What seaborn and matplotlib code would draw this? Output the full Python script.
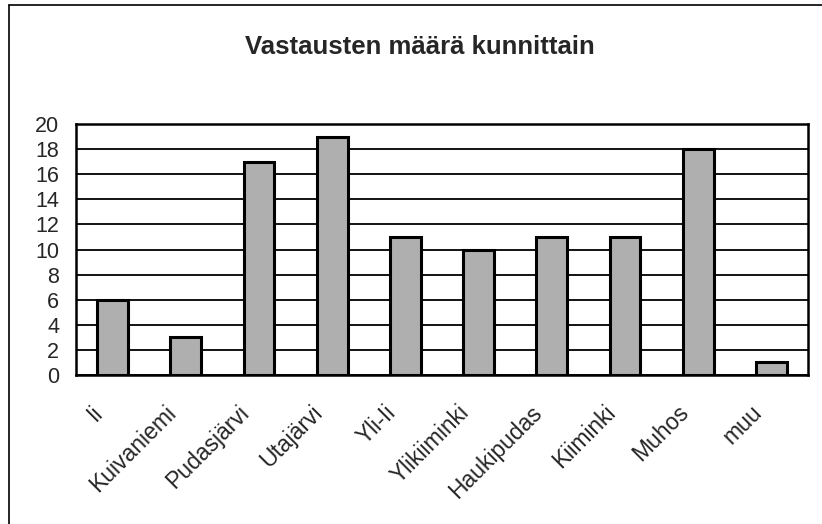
import matplotlib
matplotlib.use("Agg")
import matplotlib.pyplot as plt
import matplotlib.transforms as mtransforms
import seaborn as sns
import pandas as pd
from matplotlib.lines import Line2D

categories = ["Ii", "Kuivaniemi", "Pudasjärvi", "Utajärvi", "Yli-Ii", "Ylikiiminki",
              "Haukipudas", "Kiiminki", "Muhos", "muu"]
values = [6, 3, 17, 19, 11, 10, 11, 11, 18, 1]
yticks = list(range(0, 21, 2))
title = "Vastausten määrä kunnittain"

sns.set_style("white")
plt.rcParams['font.family'] = ['Liberation Sans', 'DejaVu Sans']

df = pd.DataFrame({"kunta": categories, "n": values})

fig = plt.figure(figsize=(8.22, 5.24), dpi=100)
ax = fig.add_axes([76/822, 1 - 375/524, (808-76)/822, (375-124)/524])

sns.barplot(data=df, x="kunta", y="n", ax=ax, color="#afafaf", width=0.42,
            edgecolor="black", linewidth=2.2, saturation=1)

ax.set_ylim(0, 20)
ax.set_xlim(-0.5, len(categories) - 0.5)
ax.set_yticks(yticks)
ax.set_yticklabels([str(t) for t in yticks], fontsize=15.5)
for t in yticks:
    ax.axhline(t, color="black", lw=1.3, zorder=0)
ax.set_axisbelow(True)
for s in ax.spines.values():
    s.set_visible(True)
    s.set_color("black")
    s.set_linewidth(1.8)

# x tick marks at category boundaries
ax.set_xticks([i - 0.5 for i in range(len(categories) + 1)], minor=True)
ax.tick_params(axis="x", which="minor", direction="out", length=4, width=1, color="black")
ax.tick_params(axis="x", which="major", length=0, pad=0)
ax.tick_params(axis="y", direction="out", length=4, width=1.2, color="black", pad=8)
ax.set_xticks(range(len(categories)))
ax.set_xticklabels(categories, rotation=45, ha="right", va="center",
                   rotation_mode="anchor", fontsize=16.5)
offset = mtransforms.ScaledTranslation(-13/100, -34/100, fig.dpi_scale_trans)
for lbl in ax.get_xticklabels():
    lbl.set_transform(lbl.get_transform() + offset)
ax.set_xlabel("")
ax.set_ylabel("")

fig.text(420/822, 1 - 47/524, title, ha="center", va="center", fontsize=18.5, fontweight="bold")

# outer frame lines (left and top)
fig.add_artist(Line2D([9/822, 9/822], [0, 1 - 5/524], transform=fig.transFigure, color="black", lw=1.2))
fig.add_artist(Line2D([9/822, 1], [1 - 5/524, 1 - 5/524], transform=fig.transFigure, color="black", lw=1.2))

fig.savefig("out.png", dpi=100)
